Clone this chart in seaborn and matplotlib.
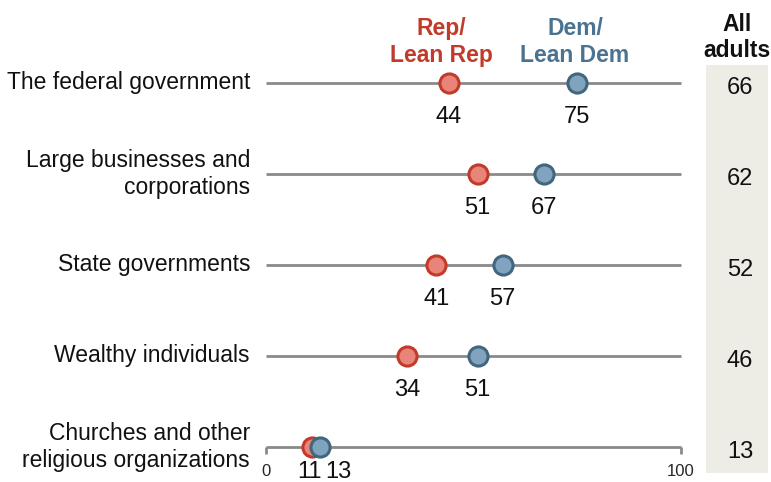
import matplotlib
matplotlib.use('Agg')

import matplotlib.pyplot as plt
import seaborn as sns
import pandas as pd
from matplotlib.patches import Rectangle

# data
categories = ["The federal government",
              "Large businesses and\ncorporations",
              "State governments",
              "Wealthy individuals",
              "Churches and other\nreligious organizations"]
rep = [44, 51, 41, 34, 11]
dem = [75, 67, 57, 51, 13]
all_adults = [66, 62, 52, 46, 13]

REP_EDGE = "#c23b2a"
REP_FILL = "#e8847a"
DEM_EDGE = "#43667f"
DEM_FILL = "#80a3c0"
DEM_TEXT = "#4a7391"
LINE = "#8a8a8a"
NUM_FONT = ['Liberation Sans', 'DejaVu Sans']

sns.set_style("white")
plt.rcParams['font.family'] = ['Liberation Sans Narrow', 'Liberation Sans', 'DejaVu Sans']

fig = plt.figure(figsize=(7.71, 4.82), dpi=100)
ax = fig.add_axes([0, 0, 1, 1])

# pixel-aligned data space: 0 -> x=266px, 100 -> x=681px; rows 91px apart from y=83px
px = 100 / 415
ax.set_xlim(-266 * px, (771 - 266) * px)
ax.set_ylim((482 - 83) / 91, -83 / 91)
ax.axis('off')

rows = list(range(len(categories)))
df = pd.DataFrame({
    "row": rows * 2,
    "value": rep + dem,
    "group": ["Rep"] * len(rep) + ["Dem"] * len(dem),
})

col_x = (740 - 266) * px

# shaded column for all adults
ax.add_patch(Rectangle(((706 - 266) * px, (65 - 83) / 91), 62 * px, (473 - 65) / 91,
                       facecolor="#eeede5", edgecolor="none", zorder=0))

ax.hlines(rows, 0, 100, color=LINE, lw=2, zorder=1)
ax.vlines([0, 100], rows[-1], rows[-1] + 0.08, color=LINE, lw=2, zorder=1)

sns.scatterplot(data=df[df.group == "Rep"], x="value", y="row", ax=ax, s=190,
                color=REP_FILL, edgecolor=REP_EDGE, linewidth=2.2, zorder=3, legend=False)
sns.scatterplot(data=df[df.group == "Dem"], x="value", y="row", ax=ax, s=190,
                color=DEM_FILL, edgecolor=DEM_EDGE, linewidth=2.2, zorder=4, legend=False)

for i, cat in enumerate(categories):
    ax.text(-16 * px, i, cat, ha='right', va='center', fontsize=16.5,
            linespacing=1.25, color="#111111")
    r_shift, d_shift, dy = 0, 0, 0.37
    if abs(rep[i] - dem[i]) < 5:
        r_shift, d_shift, dy = -0.5, 4.5, 0.27
    ax.text(rep[i] + r_shift, i + dy, str(rep[i]), ha='center', va='center',
            fontsize=17, family=NUM_FONT, color="#111111")
    ax.text(dem[i] + d_shift, i + dy, str(dem[i]), ha='center', va='center',
            fontsize=17, family=NUM_FONT, color="#111111")
    ax.text(col_x, i + 0.05, str(all_adults[i]), ha='center', va='center',
            fontsize=17, family=NUM_FONT, color="#111111")

ax.text(0, rows[-1] + 0.27, "0", ha='center', va='center', fontsize=12)
ax.text(100, rows[-1] + 0.27, "100", ha='center', va='center', fontsize=12)

ax.text((441 - 266) * px, -0.45, "Rep/\nLean Rep", ha='center', va='center', fontsize=16.5,
        fontweight='bold', color=REP_EDGE, linespacing=1.2)
ax.text((575 - 266) * px, -0.45, "Dem/\nLean Dem", ha='center', va='center', fontsize=16.5,
        fontweight='bold', color=DEM_TEXT, linespacing=1.2)
ax.text((737 - 266) * px, -0.5, "All\nadults", ha='center', va='center', fontsize=16.5,
        fontweight='bold', color="#111111", linespacing=1.15)

plt.savefig("out.png", dpi=100)
